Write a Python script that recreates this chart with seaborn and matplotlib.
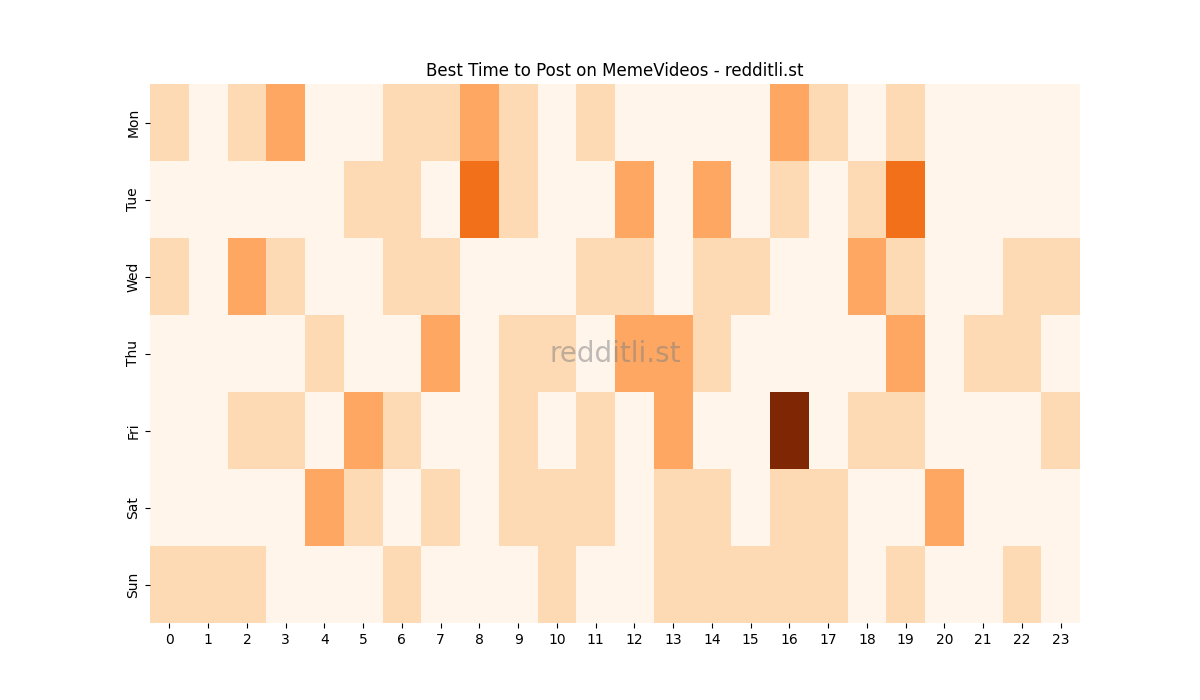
import pandas as pd
import seaborn as sns
import matplotlib.pyplot as plt

days = ['Mon', 'Tue', 'Wed', 'Thu', 'Fri', 'Sat', 'Sun']
hours = list(range(24))

# post counts per weekday / hour
mon = [1, 0, 1, 2, 0, 0, 1, 1, 2, 1, 0, 1, 0, 0, 0, 0, 2, 1, 0, 1, 0, 0, 0, 0]
tue = [0, 0, 0, 0, 0, 1, 1, 0, 3, 1, 0, 0, 2, 0, 2, 0, 1, 0, 1, 3, 0, 0, 0, 0]
wed = [1, 0, 2, 1, 0, 0, 1, 1, 0, 0, 0, 1, 1, 0, 1, 1, 0, 0, 2, 1, 0, 0, 1, 1]
thu = [0, 0, 0, 0, 1, 0, 0, 2, 0, 1, 1, 0, 2, 2, 1, 0, 0, 0, 0, 2, 0, 1, 1, 0]
fri = [0, 0, 1, 1, 0, 2, 1, 0, 0, 1, 0, 1, 0, 2, 0, 0, 5, 0, 1, 1, 0, 0, 0, 1]
sat = [0, 0, 0, 0, 2, 1, 0, 1, 0, 1, 1, 1, 0, 1, 1, 0, 1, 1, 0, 0, 2, 0, 0, 0]
sun = [1, 1, 1, 0, 0, 0, 1, 0, 0, 0, 1, 0, 0, 1, 1, 1, 1, 1, 0, 1, 0, 0, 1, 0]

df = pd.DataFrame([mon, tue, wed, thu, fri, sat, sun], index=days, columns=hours)

fig, ax = plt.subplots(figsize=(12, 7), dpi=100)
sns.heatmap(df, cmap='Oranges', cbar=False, ax=ax)

ax.set_title('Best Time to Post on MemeVideos - redditli.st')
ax.set_xlabel('')
ax.set_ylabel('')
ax.tick_params(axis='x', rotation=0)

# watermark
ax.text(0.5, 0.5, 'redditli.st', transform=ax.transAxes, fontsize=20,
        color='gray', alpha=0.5, ha='center', va='center')

fig.savefig('out.png', dpi=100)
